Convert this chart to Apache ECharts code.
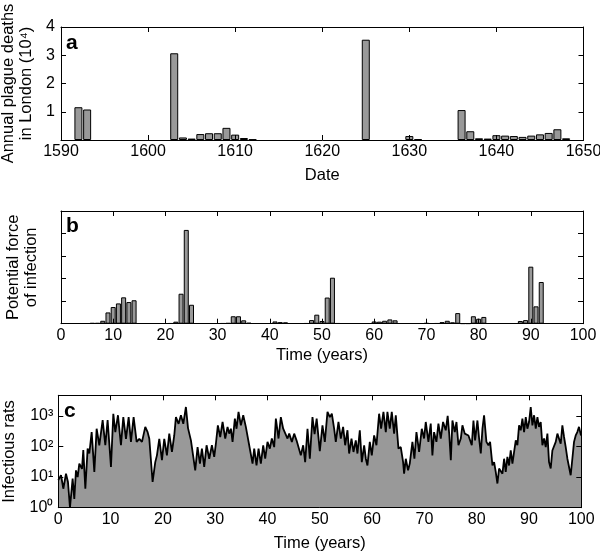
<!DOCTYPE html>
<html><head><meta charset="utf-8">
<script src="https://cdn.jsdelivr.net/npm/echarts@6/dist/echarts.min.js"></script>
<style>html,body{margin:0;padding:0;background:#fff}#chart{width:600px;height:554px}</style>
</head><body><div id="chart"></div>
<script>
// ---- Panel a: annual plague deaths in London (units of 10^4) ----
const deathYears  = [1592,1593,1603,1604,1605,1606,1607,1608,1609,1610,1611,1612,1625,1630,1631,1636,1637,1638,1639,1640,1641,1642,1643,1644,1645,1646,1647,1648];
const deathValues = [1.16,1.08,3.07,0.09,0.05,0.21,0.24,0.24,0.43,0.19,0.07,0.02,3.55,0.14,0.03,1.06,0.31,0.06,0.05,0.17,0.155,0.14,0.11,0.155,0.20,0.25,0.38,0.06];

// ---- Panel b: potential force of infection ----
const forceTimes  = [6,7,8,9,10,11,12,13,14,21,22,23,24,25,31,32,33,34,35,36,41,42,43,47,48,49,50,51,52,53,60,61,62,63,64,70,72,73,74,75,76,77,78,79,80,81,88,89,90,91,92];
const forceValues = [0.03,0.03,0.13,0.50,0.74,0.90,1.17,0.96,1.04,0.02,0.09,1.33,4.16,0.84,0.02,0.03,0.33,0.33,0.15,0.04,0.10,0.07,0.06,0.02,0.16,0.40,0.12,1.16,2.04,0.02,0.10,0.09,0.13,0.19,0.15,0.03,0.02,0.07,0.13,0.06,0.47,0.01,0.01,0.33,0.22,0.30,0.12,0.16,2.53,0.77,1.85];

// ---- Panel c: infectious rats (time in years, log10 of count) ----
const ratTimes = [0,0.52,0.96,1.47,1.85,2.23,2.74,3.06,3.38,3.7,4.02,4.53,4.78,5.17,5.61,5.93,6.38,6.89,7.33,7.84,8.48,8.99,9.43,10.07,10.52,10.9,11.41,11.98,12.43,12.94,13.45,13.89,14.4,14.98,15.49,16.0,16.63,17.08,17.4,18.03,18.54,18.86,19.31,19.82,20.26,20.77,21.22,21.73,22.17,22.49,23.0,23.45,23.9,24.4,24.8,25.36,26.18,26.63,27.08,27.46,27.9,28.35,28.86,29.37,29.81,30.13,30.51,30.96,31.41,31.92,32.36,32.68,33.0,33.32,33.76,34.08,34.46,34.91,35.36,35.86,36.18,36.5,37.14,37.46,37.9,38.29,38.73,39.18,39.56,40.0,40.45,40.83,41.28,41.6,42.11,42.55,43.0,43.38,43.83,44.15,44.66,45.1,45.55,45.93,46.37,46.82,47.2,47.65,48.09,48.6,49.0,49.4,50.0,50.51,50.96,51.47,51.92,52.3,52.74,53.06,53.57,54.02,54.46,54.85,55.29,55.61,56.06,56.44,56.88,57.2,57.65,58.03,58.48,58.8,59.11,59.56,59.94,60.39,60.83,61.34,61.72,62.17,62.62,62.93,63.38,63.76,64.21,64.53,65.04,65.48,65.93,66.12,66.44,66.88,67.2,67.71,68.09,68.48,68.99,69.5,69.94,70.26,70.77,71.21,71.53,71.85,72.3,72.68,73.13,73.57,74.08,74.45,74.75,75.05,75.36,75.81,76.13,76.51,76.96,77.27,77.72,78.04,78.42,78.74,79.06,79.38,79.69,80.14,80.46,80.78,81.1,81.41,81.86,82.24,82.56,83.01,83.33,83.64,83.96,84.28,84.6,84.92,85.24,85.55,85.87,86.19,86.51,86.83,87.15,87.47,87.78,88.1,88.42,88.74,89.06,89.38,89.69,90.01,90.33,90.65,90.97,91.29,91.61,91.92,92.24,92.56,92.88,93.2,93.52,93.83,94.15,94.47,94.79,95.11,95.43,95.75,96.06,96.38,96.7,97.02,97.34,97.97,98.29,98.61,98.93,99.24,99.56,99.94];
const ratLog10 = [0.9,1.06,0.62,1.11,0.84,0.0,0.95,0.29,1.22,1.0,1.44,1.27,1.88,0.62,1.93,1.77,2.47,1.17,2.58,2.04,2.86,2.04,2.86,1.33,3.07,2.47,3.02,2.04,2.96,2.25,2.96,2.15,2.96,2.15,2.25,2.15,2.64,2.47,2.25,0.84,1.49,1.71,2.25,1.55,2.25,1.71,2.42,1.82,2.36,2.96,2.74,3.02,2.74,3.29,2.6,2.20,1.22,1.98,1.44,1.93,1.33,2.04,1.60,2.04,1.66,2.09,2.69,2.31,2.80,2.26,2.64,2.42,2.58,2.15,2.91,2.58,3.13,2.69,3.02,2.64,2.58,2.04,1.44,1.93,1.38,1.93,1.44,2.04,1.60,2.15,1.93,2.26,1.98,2.91,2.26,2.96,2.58,2.53,2.26,2.42,2.15,2.42,2.20,2.26,1.71,2.04,1.49,2.58,1.60,2.96,2.4,2.91,1.85,2.69,2.15,3.13,2.96,3.07,2.58,2.15,2.80,2.26,2.64,2.04,2.53,1.77,2.26,1.82,2.20,1.77,2.53,1.49,2.04,1.60,1.38,2.15,1.71,2.36,2.04,3.07,2.58,3.13,2.47,3.13,2.58,3.13,2.42,3.02,1.93,1.98,1.49,1.11,1.60,1.22,1.44,2.15,1.60,2.47,1.82,2.58,2.26,2.80,2.15,2.75,1.71,2.47,2.15,2.75,2.26,2.80,2.53,3.0,2.4,1.55,2.85,2.47,2.80,2.04,2.26,2.69,2.42,2.47,2.36,2.36,2.04,2.85,2.20,2.85,2.26,1.77,2.58,3.02,2.15,2.04,2.15,1.38,1.49,1.17,0.79,1.28,1.33,1.11,1.60,1.17,1.66,1.38,1.87,1.44,1.82,2.20,2.04,2.69,2.53,2.91,2.47,2.96,2.58,2.80,3.29,2.69,3.02,2.58,2.96,2.64,2.80,2.04,2.26,1.98,2.42,1.49,1.28,1.87,1.82,2.15,2.42,2.36,2.09,2.69,2.31,1.98,1.60,1.06,1.60,2.15,2.36,2.47,2.64,2.36];

// ---- axis ranges / tick settings ----
const dateRange = [1590, 1650];
const timeRange = [0, 100];
const deathsRange = [0, 4];
const forceRange = [0, 5];
const ratsRange = [1, 4700];
const supDigits = ['\u2070','\u00B9','\u00B2','\u00B3','\u2074'];

const FONT = '"Liberation Sans", Arial, Helvetica, sans-serif';
const BLACK = '#000';
const GREY = '#999999';

const grids = [
  {left: 61, top: 27, width: 522.5, height: 113, outerBoundsMode: 'none', containLabel: false},
  {left: 61, top: 211, width: 522, height: 112.7, outerBoundsMode: 'none', containLabel: false},
  {left: 58.3, top: 395.3, width: 523, height: 112.4, outerBoundsMode: 'none', containLabel: false}
];

function mkX(gi, range, pos, labels, name, gap, tickShow) {
  return {
    type: 'value', gridIndex: gi, min: range[0], max: range[1], interval: 10,
    position: pos, z: 5,
    axisLine: {show: true, onZero: false, lineStyle: {color: BLACK, width: 1}},
    axisTick: {show: tickShow !== false, inside: true, length: 5, lineStyle: {color: BLACK, width: 1}},
    axisLabel: {show: labels, color: BLACK, fontSize: 16, fontFamily: FONT, margin: 4, formatter: v => String(v)},
    splitLine: {show: false},
    name: name || '', nameLocation: 'middle', nameGap: gap || 0,
    nameTextStyle: {color: BLACK, fontSize: 16.5, fontFamily: FONT}
  };
}
function mkY(gi, range, pos, labelCfg, name, gap, extra) {
  const ax = {
    type: 'value', gridIndex: gi, min: range[0], max: range[1], interval: 1,
    position: pos, z: 5,
    axisLine: {show: true, onZero: false, lineStyle: {color: BLACK, width: 1}},
    axisTick: {show: true, inside: true, length: 5, lineStyle: {color: BLACK, width: 1}},
    axisLabel: labelCfg || {show: false},
    splitLine: {show: false},
    name: name || '', nameLocation: 'middle', nameGap: gap || 0, nameRotate: 90,
    nameTextStyle: {color: BLACK, fontSize: 16.5, fontFamily: FONT, lineHeight: 18, align: 'center'}
  };
  return Object.assign(ax, extra || {});
}

const chart = echarts.init(document.getElementById('chart'), null, {renderer: 'canvas'});
chart.setOption({
  animation: false,
  backgroundColor: '#fff',
  grid: grids,
  xAxis: [
    mkX(0, dateRange, 'bottom', true, 'Date', 27),
    mkX(0, dateRange, 'top', false),
    mkX(1, timeRange, 'bottom', true, 'Time (years)', 23),
    mkX(1, timeRange, 'top', false),
    mkX(2, timeRange, 'bottom', true, 'Time (years)', 27, false),
    mkX(2, timeRange, 'top', false)
  ],
  yAxis: [
    mkY(0, deathsRange, 'left', {show: true, showMinLabel: false, color: BLACK, fontSize: 16, fontFamily: FONT, margin: 6},
        'Annual plague deaths\nin London (10\u2074)', 21),
    mkY(0, deathsRange, 'right'),
    mkY(1, forceRange, 'left', null, 'Potential force\nof infection', 20.5),
    mkY(1, forceRange, 'right'),
    mkY(2, ratsRange, 'left', {show: true, showMaxLabel: false, color: BLACK, fontSize: 16, fontFamily: FONT, margin: 5,
        formatter: v => '10' + supDigits[Math.round(Math.log10(v))]},
        'Infectious rats', 39, {type: 'log', logBase: 10, interval: undefined}),
    mkY(2, ratsRange, 'right', null, '', 0, {type: 'log', logBase: 10, interval: undefined})
  ],
  series: [
    {
      type: 'bar', xAxisIndex: 0, yAxisIndex: 0, barWidth: 8,
      data: deathYears.map((y, i) => [y, deathValues[i]]),
      itemStyle: {color: GREY, borderColor: BLACK, borderWidth: 1}
    },
    {
      type: 'bar', xAxisIndex: 2, yAxisIndex: 2, barWidth: 5,
      data: forceTimes.map((t, i) => [t, forceValues[i]]),
      itemStyle: {color: GREY, borderColor: BLACK, borderWidth: 1}
    },
    {
      type: 'line', xAxisIndex: 4, yAxisIndex: 4, showSymbol: false, symbol: 'none',
      data: ratTimes.map((t, i) => [t, Math.pow(10, ratLog10[i])]),
      lineStyle: {color: BLACK, width: 1.8},
      areaStyle: {color: GREY, opacity: 1, origin: 'start'}
    }
  ],
  graphic: [
    {type: 'text', x: 66, y: 43, z: 10, style: {text: 'a', font: 'bold 21px ' + FONT, fill: BLACK, verticalAlign: 'middle'}},
    {type: 'text', x: 66, y: 226, z: 10, style: {text: 'b', font: 'bold 21px ' + FONT, fill: BLACK, verticalAlign: 'middle'}},
    {type: 'text', x: 64, y: 411, z: 10, style: {text: 'c', font: 'bold 21px ' + FONT, fill: BLACK, verticalAlign: 'middle'}}
  ]
});
</script>
</body></html>
